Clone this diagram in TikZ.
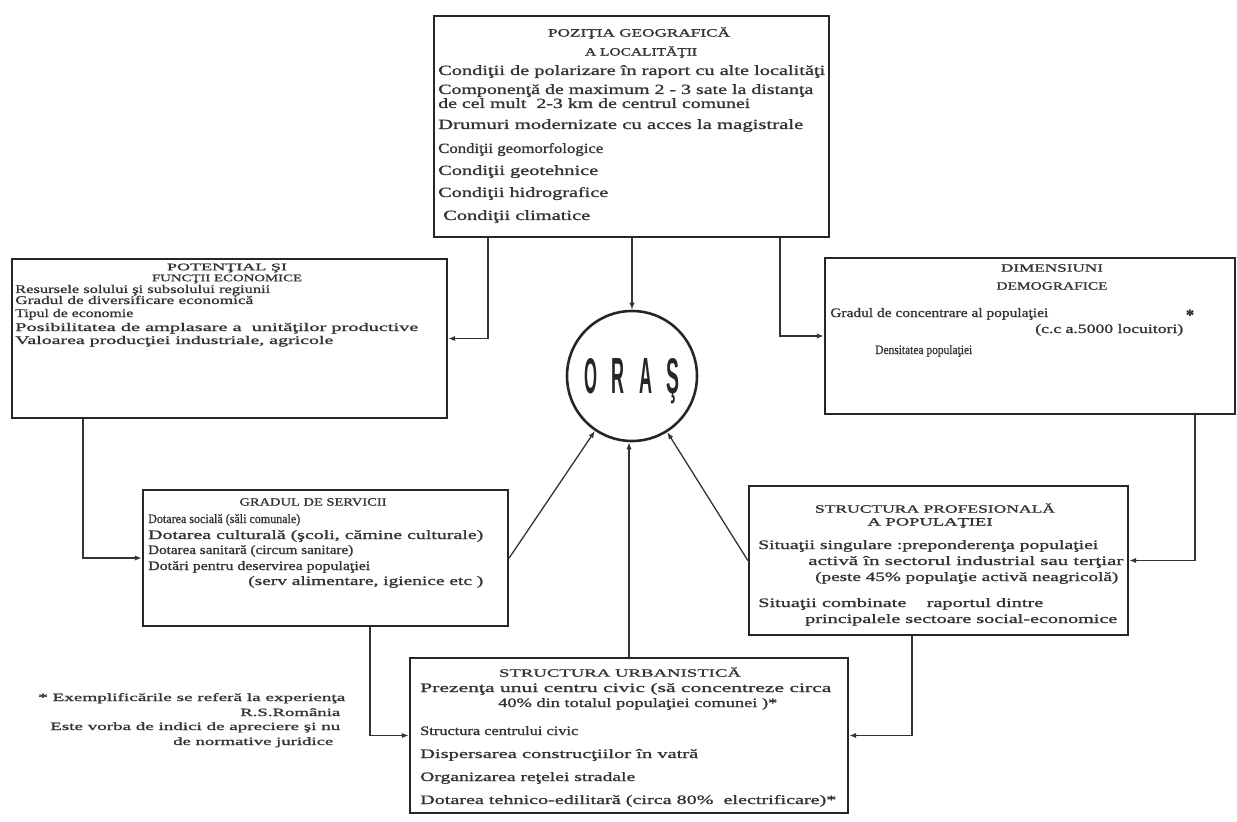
\documentclass[tikz,border=0pt]{standalone}
\usepackage{graphicx}
\usepackage{fontspec}
\setmainfont{Liberation Serif}[FakeBold=1]
\newfontfamily\orasfont{Liberation Sans}
\usetikzlibrary{arrows.meta,fit}
\newlength\pxu \setlength\pxu{0.03cm}
\newcommand\lw[2]{\resizebox{#1\pxu}{\height}{#2}}
\newcommand\ol[1]{\resizebox{13\pxu}{35\pxu}{#1}}
\newcommand\szA{\fontsize{12}{12}\selectfont}
\newcommand\szB{\fontsize{11}{11}\selectfont}
\newcommand\szC{\fontsize{10}{10}\selectfont}
\newcommand\szT{\fontsize{9.5}{9.5}\selectfont}
\newcommand\szS{\fontsize{8.5}{8.5}\selectfont}
\newcommand\szF{\fontsize{9.5}{9.5}\selectfont}
\tikzset{
  box/.style={draw=black!85, line width=2pt, inner sep=0pt},
  conn/.style={draw=black!80, line width=1.1pt, -{Latex[length=6pt,width=4.5pt]}},
  ln/.style={inner sep=0pt, anchor=base west, text=black!80},
  tl/.style={inner sep=0pt, anchor=center, text=black!80},
}
\begin{document}
\begin{tikzpicture}[x=0.03cm,y=-0.03cm]
\useasboundingbox (0,0) rectangle (1237,822);
\fill[white] (0,0) rectangle (1237,822);

% boxes
\node[box, fit={(434,16)(829,237)}] (top) {};
\node[box, fit={(12,259)(447,418)}] (pot) {};
\node[box, fit={(825,258)(1235,414)}] (dem) {};
\node[box, fit={(143,490)(508,626)}] (gra) {};
\node[box, fit={(749,486)(1128,635)}] (prof) {};
\node[box, fit={(410,658)(848,813)}] (urb) {};
\node[draw=black!85, circle, line width=2.2pt, minimum size=130\pxu, inner sep=0pt, text=black!85,
      font=\orasfont\bfseries] (c) at (632,376)
  {\ol{O}\hspace{14.6\pxu}\ol{R}\hspace{14.6\pxu}\ol{A}\hspace{14.6\pxu}\smash{\ol{Ş}}};

% top box text
\node[tl,font=\szT] (topt1) at (639,33) {\lw{182}{POZIŢIA GEOGRAFICĂ}};
\node[tl,font=\szT] (topt2) at (641,52) {\lw{112}{A LOCALITĂŢII}};
\node[ln,font=\szA] (top1) at (438,75) {\lw{387}{Condiţii de polarizare în raport cu alte localităţi}};
\node[ln,font=\szA] (top2) at (438,94) {\lw{375}{Componenţă de maximum 2 - 3 sate la distanţa}};
\node[ln,font=\szA] (top3) at (438,108) {\lw{312}{de cel mult\ \ 2-3 km de centrul comunei}};
\node[ln,font=\szA] (top4) at (438,129) {\lw{365}{Drumuri modernizate cu acces la magistrale}};
\node[ln,font=\szA] (top5) at (438,153) {\lw{165}{Condiţii geomorfologice}};
\node[ln,font=\szA] (top6) at (438,175) {\lw{160}{Condiţii geotehnice}};
\node[ln,font=\szA] (top7) at (438,197) {\lw{170}{Condiţii hidrografice}};
\node[ln,font=\szA] (top8) at (443,220) {\lw{147}{Condiţii climatice}};

% potential box text
\node[tl,font=\szS] (pott1) at (227,268) {\lw{120}{POTENŢIAL ŞI}};
\node[tl,font=\szS] (pott2) at (227,279) {\lw{150}{FUNCŢII ECONOMICE}};
\node[ln,font=\szC] (pot1) at (15,293) {\lw{255}{Resursele solului şi subsolului regiunii}};
\node[ln,font=\szC] (pot2) at (15,304) {\lw{238}{Gradul de diversificare economică}};
\node[ln,font=\szC] (pot3) at (15,317) {\lw{118}{Tipul de economie}};
\node[ln,font=\szC] (pot4) at (15,331) {\lw{403}{Posibilitatea de amplasare a\ \ unităţilor productive}};
\node[ln,font=\szC] (pot5) at (15,344) {\lw{318}{Valoarea producţiei industriale, agricole}};

% demographic box text
\node[tl,font=\szF] (demt1) at (1052,268) {\lw{102}{DIMENSIUNI}};
\node[tl,font=\szF] (demt2) at (1052,286) {\lw{111}{DEMOGRAFICE}};
\node[ln,font=\szB] (dem1) at (830,317) {\lw{218}{Gradul de concentrare al populaţiei}};
\node[ln,font=\szB] (dem2) at (1035,333) {\lw{148}{(c.c a.5000 locuitori)}};
\node[tl,font=\bfseries\fontsize{14}{14}\selectfont] (demstar) at (1190,315) {*};
\node[ln,font=\szB] (dem3) at (875,354) {\lw{97}{Densitatea populaţiei}};

% services box text
\node[tl,font=\szF] (grat) at (313,502) {\lw{147}{GRADUL DE SERVICII}};
\node[ln,font=\szB] (gra1) at (148,523) {\lw{152}{Dotarea socială (săli comunale)}};
\node[ln,font=\szB] (gra2) at (148,539) {\lw{335}{Dotarea culturală (şcoli, cămine culturale)}};
\node[ln,font=\szB] (gra3) at (148,554) {\lw{205}{Dotarea sanitară (circum sanitare)}};
\node[ln,font=\szB] (gra4) at (148,570) {\lw{222}{Dotări pentru deservirea populaţiei}};
\node[ln,font=\szB] (gra5) at (248,585) {\lw{235}{(serv alimentare, igienice etc )}};

% professional structure box text
\node[tl,font=\szT] (proft1) at (935,508) {\lw{240}{STRUCTURA PROFESIONALĂ}};
\node[tl,font=\szT] (proft2) at (930,523) {\lw{125}{A POPULAŢIEI}};
\node[ln,font=\szB] (prof1) at (758,549) {\lw{340}{Situaţii singulare :preponderenţa populaţiei}};
\node[ln,font=\szB] (prof2) at (808,565) {\lw{315}{activă în sectorul industrial sau terţiar}};
\node[ln,font=\szB] (prof3) at (815,581) {\lw{303}{(peste 45\% populaţie activă neagricolă)}};
\node[ln,font=\szB] (prof4) at (758,607) {\lw{285}{Situaţii combinate\ \ \ \ raportul dintre}};
\node[ln,font=\szB] (prof5) at (805,623) {\lw{312}{principalele sectoare social-economice}};

% urban structure box text
\node[tl,font=\szT] (urbt) at (620,672) {\lw{242}{STRUCTURA URBANISTICĂ}};
\node[ln,font=\szB] (urb1) at (420,692) {\lw{411}{Prezenţa unui centru civic (să concentreze circa}};
\node[ln,font=\szB] (urb2) at (498,707) {\lw{279}{40\% din totalul populaţiei comunei )*}};
\node[ln,font=\szB] (urb3) at (420,735) {\lw{158}{Structura centrului civic}};
\node[ln,font=\szB] (urb4) at (420,758) {\lw{278}{Dispersarea construcţiilor în vatră}};
\node[ln,font=\szB] (urb5) at (420,781) {\lw{215}{Organizarea reţelei stradale}};
\node[ln,font=\szB] (urb6) at (420,804) {\lw{416}{Dotarea tehnico-edilitară (circa 80\%\ \ electrificare)*}};

% footnote
\node[ln,font=\szF] (fn1) at (38,701) {\lw{307}{* Exemplificările se referă la experienţa}};
\node[ln,font=\szF] (fn2) at (240,716) {\lw{100}{R.S.România}};
\node[ln,font=\szF] (fn3) at (50,730) {\lw{290}{Este vorba de indici de apreciere şi nu}};
\node[ln,font=\szF] (fn4) at (173,745) {\lw{160}{de normative juridice}};

% connector x positions
\coordinate (xa) at (488,0);
\coordinate (xb) at (780,0);
\coordinate (xc) at (83,0);
\coordinate (xd) at (1195,0);
\coordinate (xe) at (370,0);
\coordinate (xf) at (912,0);

% connectors
\draw[conn] (c.north |- top.south) -- (c.north);
\draw[conn] (top.south -| xa) |- (pot.east);
\draw[conn] (top.south -| xb) |- (dem.west);
\draw[conn] (pot.south -| xc) |- (gra.west);
\draw[conn] (dem.south -| xd) |- (prof.east);
\draw[conn] (gra.east) -- (c);
\draw[conn] (prof.west) -- (c);
\draw[conn] (urb.north) -- (urb.north |- c.south);
\draw[conn] (gra.south -| xe) |- (urb.west);
\draw[conn] (prof.south -| xf) |- (urb.east);
\end{tikzpicture}
\end{document}
